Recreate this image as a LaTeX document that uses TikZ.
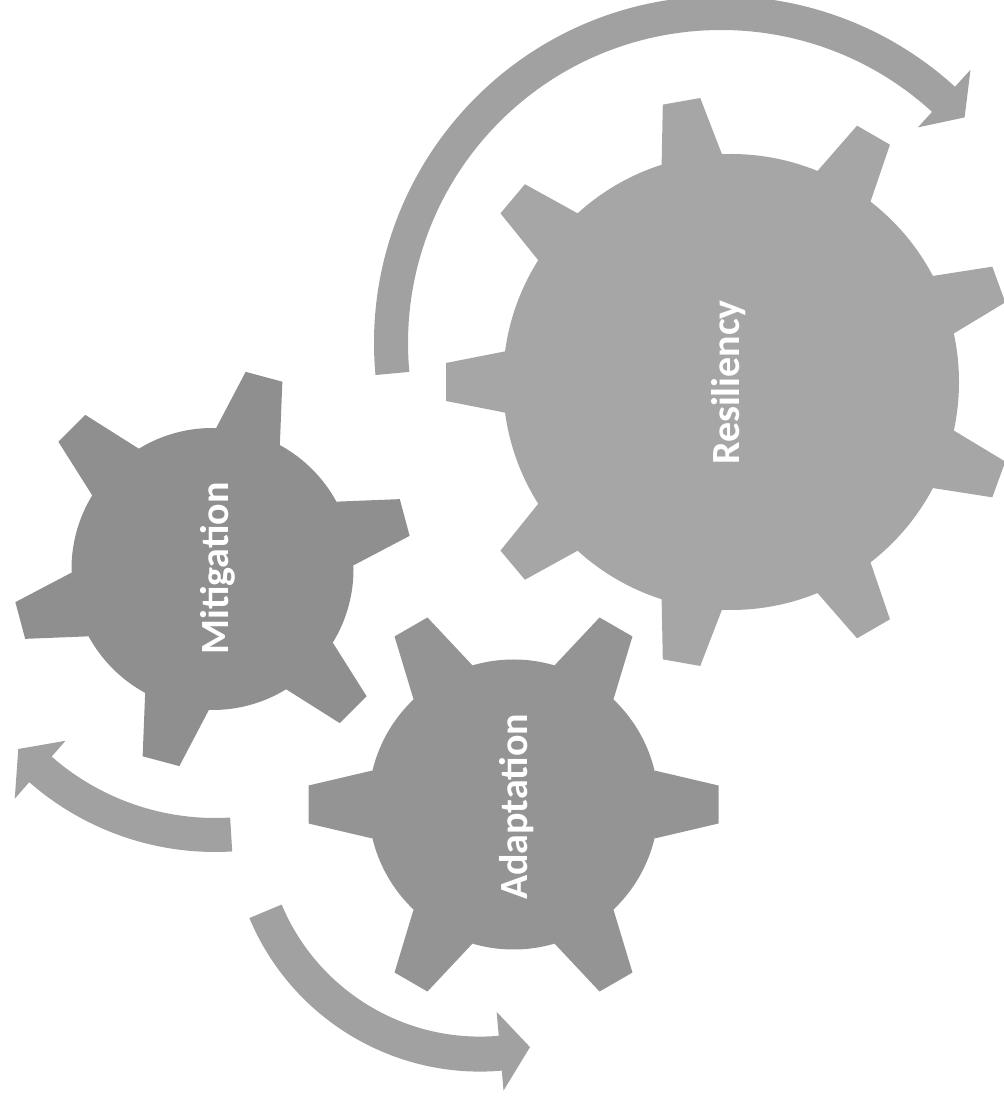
\documentclass[tikz,border=0pt]{standalone}
\usepackage{fontspec}
\setsansfont{Carlito}
\usetikzlibrary{calc}
\definecolor{resgray}{gray}{0.65}
\definecolor{mitgray}{gray}{0.56}
\definecolor{adagray}{gray}{0.58}
\definecolor{arcgray}{gray}{0.63}
\tikzset{gearlabel/.style = {text=white, font=\sffamily\bfseries\fontsize{30}{30}\selectfont, rotate=90, anchor=base, inner sep=0pt}}
% #1 colour, #2 centre, #3 body radius, #4 tip radius, #5 base half width, #6 first angle, #7 second angle, #8 last angle
\newcommand{\gearshape}[8]{
  \fill [#1] (#2) circle (#3);
  \foreach \a in {#6,#7,...,#8} {
    \begin{scope}[shift={(#2)}, rotate=\a]
      \fill [#1] (#3-4,-#5) -- (#4,-19) -- (#4,19) -- (#3-4,#5) -- cycle;
    \end{scope}
  }
}
% #1 centre, #2 outer, #3 inner, #4 tail angle, #5 neck angle, #6 tip polar, #7 outer barb, #8 inner barb
\newcommand{\arcarrow}[8]{
  \fill [arcgray] ($(#1)+(#4:#2)$) arc [start angle=#4, end angle=#5, radius=#2]
    -- ($(#1)+(#5:#7)$) -- ($(#1)+(#6)$) -- ($(#1)+(#5:#8)$) -- ($(#1)+(#5:#3)$)
    arc [start angle=#5, end angle=#4, radius=#3] -- cycle;
}
\begin{document}
\begin{tikzpicture}[x=0.75pt, y=0.75pt]
\useasboundingbox (0,0) rectangle (1003,1099);
\gearshape{resgray}{731,717}{228}{285}{31}{180}{140}{-140}
\gearshape{mitgray}{212.5,530}{141}{199}{33}{15}{75}{315}
\gearshape{adagray}{513.5,294.5}{145}{205}{34}{0}{60}{300}
\arcarrow{721,756}{347}{313}{185.3}{47.6}{42.8:332}{370}{292}
\arcarrow{215,529}{282}{248}{273.5}{228.8}{222.3:266}{304}{227}
\arcarrow{480,277.4}{250}{215}{202.7}{275}{282.5:231}{270}{191}
\node [gearlabel] (resiliency) at (739,716.5) {Resiliency};
\node [gearlabel] (mitigation) at (228,530.5) {Mitigation};
\node [gearlabel] (adaptation) at (527,292) {Adaptation};
\end{tikzpicture}
\end{document}
